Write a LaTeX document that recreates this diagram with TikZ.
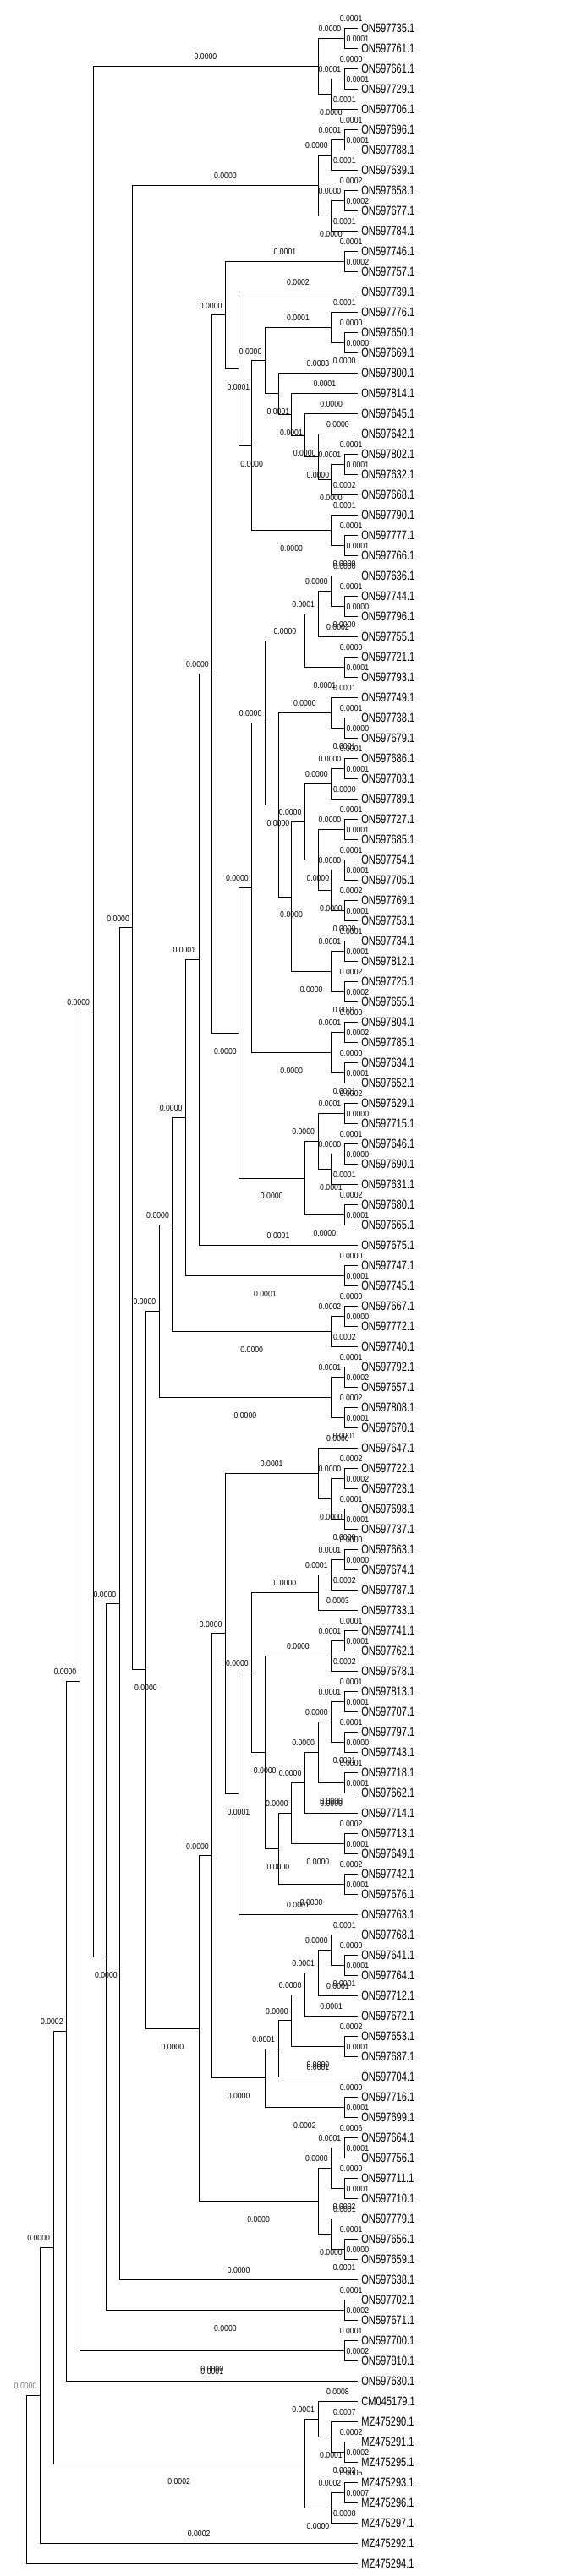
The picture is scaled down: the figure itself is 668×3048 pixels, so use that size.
\documentclass[tikz,border=0pt]{standalone}
\usepackage{fontspec}
\setmainfont{Liberation Sans}
\usetikzlibrary{calc}
\definecolor{rootgray}{RGB}{120,120,120}
\newcommand\lfx[1]{\scalebox{0.74}[1]{#1}}
\newcommand\brx[1]{\scalebox{0.87}[1]{#1}}
\tikzset{
  br/.style={line width=0.9pt, black},
  bl/.style={inner sep=0pt, font=\fontsize{10}{10}\selectfont},
  leaf/.style={anchor=west, inner xsep=4.2pt, inner ysep=0pt, font=\fontsize{15}{15}\selectfont},
}
\newcommand\Lf[2]{\node[leaf] (l#1) at (422.95,{-33.5-24*(#1-1)}) {\lfx{#2}};}
\newcommand\Tl[3]{\draw[br] (#1) |- (#2);
  \path let \p1=(#1),\p2=(#2) in node[bl] at ({(\x1+\x2)/2},{\y2+11pt}) {\brx{#3}};}
\newcommand\Ti[3]{\draw[br] (#1) |- (#2);
  \path let \p1=(#1),\p2=(#2) in node[bl] at ({min((\x1+\x2)/2,\x2-17.3pt)},{\y2+11pt}) {\brx{#3}};}
\newcommand\Bl[3]{\draw[br] (#1) |- (#2);
  \path let \p1=(#1),\p2=(#2) in node[bl] at ({max((\x1+\x2)/2,\x1+15.5pt)},{\y2+11pt}) {\brx{#3}};}
\newcommand\Bi[3]{\draw[br] (#1) |- (#2);
  \path let \p1=(#1),\p2=(#2) in node[bl] at ({max((\x1+\x2)/2,\x1+15.5pt)},{\y2-21.5pt}) {\brx{#3}};}
\newcommand\K[8]{%
  \path let \p1=(#3),\p2=(#6) in coordinate (#1) at ({422.95-15.65*#2},{(\y1+\y2)/2});%
  \csname T#4\endcsname{#1}{#3}{#5}%
  \csname B#7\endcsname{#1}{#6}{#8}}
\begin{document}
\begin{tikzpicture}[x=1pt,y=1pt]
\fill[white] (0,0) rectangle (668,-3048);
\path[use as bounding box] (0,0) rectangle (668,-3048);
\Lf{1}{ON597735.1}\Lf{2}{ON597761.1}\Lf{3}{ON597661.1}\Lf{4}{ON597729.1}\Lf{5}{ON597706.1}
\Lf{6}{ON597696.1}\Lf{7}{ON597788.1}\Lf{8}{ON597639.1}\Lf{9}{ON597658.1}\Lf{10}{ON597677.1}
\Lf{11}{ON597784.1}\Lf{12}{ON597746.1}\Lf{13}{ON597757.1}\Lf{14}{ON597739.1}\Lf{15}{ON597776.1}
\Lf{16}{ON597650.1}\Lf{17}{ON597669.1}\Lf{18}{ON597800.1}\Lf{19}{ON597814.1}\Lf{20}{ON597645.1}
\Lf{21}{ON597642.1}\Lf{22}{ON597802.1}\Lf{23}{ON597632.1}\Lf{24}{ON597668.1}\Lf{25}{ON597790.1}
\Lf{26}{ON597777.1}\Lf{27}{ON597766.1}\Lf{28}{ON597636.1}\Lf{29}{ON597744.1}\Lf{30}{ON597796.1}
\Lf{31}{ON597755.1}\Lf{32}{ON597721.1}\Lf{33}{ON597793.1}\Lf{34}{ON597749.1}\Lf{35}{ON597738.1}
\Lf{36}{ON597679.1}\Lf{37}{ON597686.1}\Lf{38}{ON597703.1}\Lf{39}{ON597789.1}\Lf{40}{ON597727.1}
\Lf{41}{ON597685.1}\Lf{42}{ON597754.1}\Lf{43}{ON597705.1}\Lf{44}{ON597769.1}\Lf{45}{ON597753.1}
\Lf{46}{ON597734.1}\Lf{47}{ON597812.1}\Lf{48}{ON597725.1}\Lf{49}{ON597655.1}\Lf{50}{ON597804.1}
\Lf{51}{ON597785.1}\Lf{52}{ON597634.1}\Lf{53}{ON597652.1}\Lf{54}{ON597629.1}\Lf{55}{ON597715.1}
\Lf{56}{ON597646.1}\Lf{57}{ON597690.1}\Lf{58}{ON597631.1}\Lf{59}{ON597680.1}\Lf{60}{ON597665.1}
\Lf{61}{ON597675.1}\Lf{62}{ON597747.1}\Lf{63}{ON597745.1}\Lf{64}{ON597667.1}\Lf{65}{ON597772.1}
\Lf{66}{ON597740.1}\Lf{67}{ON597792.1}\Lf{68}{ON597657.1}\Lf{69}{ON597808.1}\Lf{70}{ON597670.1}
\Lf{71}{ON597647.1}\Lf{72}{ON597722.1}\Lf{73}{ON597723.1}\Lf{74}{ON597698.1}\Lf{75}{ON597737.1}
\Lf{76}{ON597663.1}\Lf{77}{ON597674.1}\Lf{78}{ON597787.1}\Lf{79}{ON597733.1}\Lf{80}{ON597741.1}
\Lf{81}{ON597762.1}\Lf{82}{ON597678.1}\Lf{83}{ON597813.1}\Lf{84}{ON597707.1}\Lf{85}{ON597797.1}
\Lf{86}{ON597743.1}\Lf{87}{ON597718.1}\Lf{88}{ON597662.1}\Lf{89}{ON597714.1}\Lf{90}{ON597713.1}
\Lf{91}{ON597649.1}\Lf{92}{ON597742.1}\Lf{93}{ON597676.1}\Lf{94}{ON597763.1}\Lf{95}{ON597768.1}
\Lf{96}{ON597641.1}\Lf{97}{ON597764.1}\Lf{98}{ON597712.1}\Lf{99}{ON597672.1}\Lf{100}{ON597653.1}
\Lf{101}{ON597687.1}\Lf{102}{ON597704.1}\Lf{103}{ON597716.1}\Lf{104}{ON597699.1}\Lf{105}{ON597664.1}
\Lf{106}{ON597756.1}\Lf{107}{ON597711.1}\Lf{108}{ON597710.1}\Lf{109}{ON597779.1}\Lf{110}{ON597656.1}
\Lf{111}{ON597659.1}\Lf{112}{ON597638.1}\Lf{113}{ON597702.1}\Lf{114}{ON597671.1}\Lf{115}{ON597700.1}
\Lf{116}{ON597810.1}\Lf{117}{ON597630.1}\Lf{118}{CM045179.1}\Lf{119}{MZ475290.1}\Lf{120}{MZ475291.1}
\Lf{121}{MZ475295.1}\Lf{122}{MZ475293.1}\Lf{123}{MZ475296.1}\Lf{124}{MZ475297.1}\Lf{125}{MZ475292.1}
\Lf{126}{MZ475294.1}
% clade A
\K{a12}{1}{l1.west}{l}{0.0001}{l2.west}{l}{0.0001}
\K{a34}{1}{l3.west}{l}{0.0000}{l4.west}{l}{0.0001}
\K{a345}{2}{a34}{i}{0.0001}{l5.west}{l}{0.0001}
\K{A}{3}{a12}{i}{0.0000}{a345}{i}{0.0000}
% clade B
\K{b67}{1}{l6.west}{l}{0.0001}{l7.west}{l}{0.0001}
\K{b678}{2}{b67}{i}{0.0001}{l8.west}{l}{0.0001}
\K{b910}{1}{l9.west}{l}{0.0002}{l10.west}{l}{0.0002}
\K{b911}{2}{b910}{i}{0.0000}{l11.west}{l}{0.0001}
\K{B}{3}{b678}{i}{0.0000}{b911}{i}{0.0000}
% clade C
\K{c1213}{1}{l12.west}{l}{0.0001}{l13.west}{l}{0.0002}
\K{c1617}{1}{l16.west}{l}{0.0000}{l17.west}{l}{0.0000}
\K{c15}{2}{l15.west}{l}{0.0001}{c1617}{i}{0.0000}
\K{c2223}{1}{l22.west}{l}{0.0001}{l23.west}{l}{0.0001}
\K{c24}{2}{c2223}{i}{0.0001}{l24.west}{l}{0.0002}
\K{c21}{3}{l21.west}{l}{0.0000}{c24}{i}{0.0000}
\K{c20}{4}{l20.west}{l}{0.0000}{c21}{i}{0.0000}
\K{c19}{5}{l19.west}{l}{0.0001}{c20}{i}{0.0000}
\K{c18}{6}{l18.west}{l}{0.0003}{c19}{i}{0.0001}
\K{c7}{7}{c15}{i}{0.0001}{c18}{i}{0.0001}
\K{c2627}{1}{l26.west}{l}{0.0001}{l27.west}{l}{0.0001}
\K{c25}{2}{l25.west}{l}{0.0001}{c2627}{i}{0.0000}
\K{c8}{8}{c7}{i}{0.0000}{c25}{i}{0.0000}
\K{c9}{9}{l14.west}{l}{0.0002}{c8}{i}{0.0000}
\K{C}{10}{c1213}{i}{0.0001}{c9}{i}{0.0001}
% clade D
\K{d2930}{1}{l29.west}{l}{0.0001}{l30.west}{l}{0.0000}
\K{d28}{2}{l28.west}{l}{0.0000}{d2930}{i}{0.0000}
\K{d31}{3}{d28}{i}{0.0000}{l31.west}{l}{0.0002}
\K{d3233}{1}{l32.west}{l}{0.0000}{l33.west}{l}{0.0001}
\K{d4a}{4}{d31}{i}{0.0001}{d3233}{i}{0.0001}
\K{d3536}{1}{l35.west}{l}{0.0001}{l36.west}{l}{0.0000}
\K{d34}{2}{l34.west}{l}{0.0001}{d3536}{i}{0.0001}
\K{d3738}{1}{l37.west}{l}{0.0001}{l38.west}{l}{0.0001}
\K{d39}{2}{d3738}{i}{0.0000}{l39.west}{l}{0.0000}
\K{d4041}{1}{l40.west}{l}{0.0001}{l41.west}{l}{0.0001}
\K{d4243}{1}{l42.west}{l}{0.0001}{l43.west}{l}{0.0001}
\K{d4445}{1}{l44.west}{l}{0.0002}{l45.west}{l}{0.0001}
\K{d4245}{2}{d4243}{i}{0.0000}{d4445}{i}{0.0000}
\K{d4045}{3}{d4041}{i}{0.0000}{d4245}{i}{0.0000}
\K{d4b}{4}{d39}{i}{0.0000}{d4045}{i}{0.0000}
\K{d4647}{1}{l46.west}{l}{0.0001}{l47.west}{l}{0.0001}
\K{d4849}{1}{l48.west}{l}{0.0002}{l49.west}{l}{0.0002}
\K{d4649}{2}{d4647}{i}{0.0001}{d4849}{i}{0.0001}
\K{d5}{5}{d4b}{i}{0.0000}{d4649}{i}{0.0000}
\K{d6}{6}{d34}{i}{0.0000}{d5}{i}{0.0000}
\K{d7}{7}{d4a}{i}{0.0000}{d6}{i}{0.0000}
\K{d5051}{1}{l50.west}{l}{0.0000}{l51.west}{l}{0.0002}
\K{d5253}{1}{l52.west}{l}{0.0000}{l53.west}{l}{0.0001}
\K{d5053}{2}{d5051}{i}{0.0001}{d5253}{i}{0.0001}
\K{d8}{8}{d7}{i}{0.0000}{d5053}{i}{0.0000}
\K{d5455}{1}{l54.west}{l}{0.0002}{l55.west}{l}{0.0000}
\K{d5657}{1}{l56.west}{l}{0.0001}{l57.west}{l}{0.0000}
\K{d58}{2}{d5657}{i}{0.0000}{l58.west}{l}{0.0001}
\K{d3x}{3}{d5455}{i}{0.0001}{d58}{i}{0.0001}
\K{d5960}{1}{l59.west}{l}{0.0002}{l60.west}{l}{0.0001}
\K{d4x}{4}{d3x}{i}{0.0000}{d5960}{i}{0.0000}
\K{D}{9}{d8}{i}{0.0000}{d4x}{i}{0.0000}
% spine upper
\K{e11}{11}{C}{i}{0.0000}{D}{i}{0.0000}
\K{e12}{12}{e11}{i}{0.0000}{l61.west}{l}{0.0001}
\K{f6263}{1}{l62.west}{l}{0.0000}{l63.west}{l}{0.0001}
\K{e13}{13}{e12}{i}{0.0001}{f6263}{i}{0.0001}
\K{f6465}{1}{l64.west}{l}{0.0000}{l65.west}{l}{0.0000}
\K{f66}{2}{f6465}{i}{0.0002}{l66.west}{l}{0.0002}
\K{e14}{14}{e13}{i}{0.0000}{f66}{i}{0.0000}
\K{f6768}{1}{l67.west}{l}{0.0001}{l68.west}{l}{0.0002}
\K{f6970}{1}{l69.west}{l}{0.0002}{l70.west}{l}{0.0001}
\K{f6770}{2}{f6768}{i}{0.0001}{f6970}{i}{0.0001}
\K{e15}{15}{e14}{i}{0.0000}{f6770}{i}{0.0000}
% clade G
\K{g7273}{1}{l72.west}{l}{0.0002}{l73.west}{l}{0.0002}
\K{g7475}{1}{l74.west}{l}{0.0001}{l75.west}{l}{0.0001}
\K{g7275}{2}{g7273}{i}{0.0000}{g7475}{i}{0.0000}
\K{g71}{3}{l71.west}{l}{0.0000}{g7275}{i}{0.0000}
\K{g7677}{1}{l76.west}{l}{0.0000}{l77.west}{l}{0.0000}
\K{g78}{2}{g7677}{i}{0.0001}{l78.west}{l}{0.0002}
\K{g79}{3}{g78}{i}{0.0001}{l79.west}{l}{0.0003}
\K{g8081}{1}{l80.west}{l}{0.0001}{l81.west}{l}{0.0001}
\K{g82}{2}{g8081}{i}{0.0001}{l82.west}{l}{0.0002}
\K{g8384}{1}{l83.west}{l}{0.0001}{l84.west}{l}{0.0001}
\K{g8586}{1}{l85.west}{l}{0.0001}{l86.west}{l}{0.0000}
\K{g8386}{2}{g8384}{i}{0.0001}{g8586}{i}{0.0001}
\K{g8788}{1}{l87.west}{l}{0.0001}{l88.west}{l}{0.0001}
\K{g3}{3}{g8386}{i}{0.0000}{g8788}{i}{0.0000}
\K{g4}{4}{g3}{i}{0.0000}{l89.west}{l}{0.0000}
\K{g9091}{1}{l90.west}{l}{0.0002}{l91.west}{l}{0.0001}
\K{g5}{5}{g4}{i}{0.0000}{g9091}{i}{0.0000}
\K{g9293}{1}{l92.west}{l}{0.0002}{l93.west}{l}{0.0001}
\K{g6}{6}{g5}{i}{0.0000}{g9293}{i}{0.0000}
\K{g7}{7}{g82}{i}{0.0000}{g6}{i}{0.0000}
\K{g8}{8}{g79}{i}{0.0000}{g7}{i}{0.0000}
\K{g9}{9}{g8}{i}{0.0000}{l94.west}{l}{0.0001}
\K{g10}{10}{g71}{i}{0.0001}{g9}{i}{0.0001}
\K{g9697}{1}{l96.west}{l}{0.0000}{l97.west}{l}{0.0001}
\K{g95}{2}{l95.west}{l}{0.0001}{g9697}{i}{0.0001}
\K{h3}{3}{g95}{i}{0.0000}{l98.west}{l}{0.0001}
\K{h4}{4}{h3}{i}{0.0001}{l99.west}{l}{0.0001}
\K{g100}{1}{l100.west}{l}{0.0002}{l101.west}{l}{0.0001}
\K{h5}{5}{h4}{i}{0.0000}{g100}{i}{0.0000}
\K{h6}{6}{h5}{i}{0.0000}{l102.west}{l}{0.0001}
\K{g103}{1}{l103.west}{l}{0.0000}{l104.west}{l}{0.0001}
\K{h7}{7}{h6}{i}{0.0001}{g103}{i}{0.0002}
\K{g11}{11}{g10}{i}{0.0000}{h7}{i}{0.0000}
\K{k105}{1}{l105.west}{l}{0.0006}{l106.west}{l}{0.0001}
\K{k107}{1}{l107.west}{l}{0.0000}{l108.west}{l}{0.0001}
\K{k2a}{2}{k105}{i}{0.0001}{k107}{i}{0.0002}
\K{k110}{1}{l110.west}{l}{0.0001}{l111.west}{l}{0.0000}
\K{k2b}{2}{l109.west}{l}{0.0001}{k110}{i}{0.0001}
\K{k3}{3}{k2a}{i}{0.0000}{k2b}{i}{0.0000}
\K{G}{12}{g11}{i}{0.0000}{k3}{i}{0.0000}
% spine lower
\K{e16}{16}{e15}{i}{0.0000}{G}{i}{0.0000}
\K{e17}{17}{B}{i}{0.0000}{e16}{i}{0.0000}
\K{e18}{18}{e17}{i}{0.0000}{l112.west}{l}{0.0000}
\K{m113}{1}{l113.west}{l}{0.0001}{l114.west}{l}{0.0002}
\K{e19}{19}{e18}{i}{0.0000}{m113}{i}{0.0000}
\K{e20}{20}{A}{i}{0.0000}{e19}{i}{0.0000}
\K{m115}{1}{l115.west}{l}{0.0001}{l116.west}{l}{0.0002}
\K{e21}{21}{e20}{i}{0.0000}{m115}{i}{0.0000}
\K{e22}{22}{e21}{i}{0.0000}{l117.west}{l}{0.0001}
% MZ clade
\K{p120}{1}{l120.west}{l}{0.0002}{l121.west}{l}{0.0002}
\K{p119}{2}{l119.west}{l}{0.0007}{p120}{i}{0.0002}
\K{p118}{3}{l118.west}{l}{0.0008}{p119}{i}{0.0001}
\K{p122}{1}{l122.west}{l}{0.0005}{l123.west}{l}{0.0007}
\K{p124}{2}{p122}{i}{0.0002}{l124.west}{l}{0.0008}
\K{P}{4}{p118}{i}{0.0001}{p124}{i}{0.0000}
\K{e23}{23}{e22}{i}{0.0002}{P}{i}{0.0002}
\K{e24}{24}{e23}{i}{0.0000}{l125.west}{l}{0.0002}
% root
\path let \p1=(e24),\p2=(l126.west) in coordinate (root) at ({422.95-15.65*25},{(\y1+\y2)/2});
\draw[br] (root) |- (e24);
\draw[br] (root) |- (l126.west);
\path let \p1=(root),\p2=(e24) in node[bl,text=rootgray] at ({min((\x1+\x2)/2,\x2-17.3pt)},{\y2+11pt}) {\brx{0.0000}};
\end{tikzpicture}
\end{document}
